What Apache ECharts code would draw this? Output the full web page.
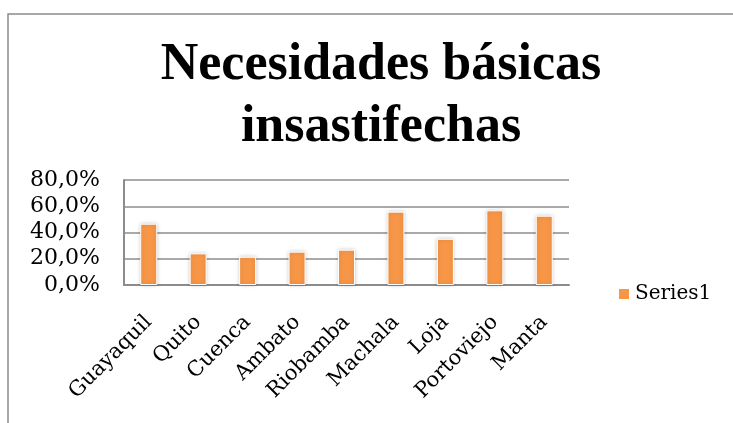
<!DOCTYPE html>
<html>
<head>
<meta charset="utf-8">
<script src="https://cdn.jsdelivr.net/npm/echarts@6/dist/echarts.min.js"></script>
<style>
  html, body { margin: 0; padding: 0; background: #fff; }
  #chart { width: 733px; height: 423px; }
</style>
</head>
<body>
<div id="chart"></div>
<script>
// datos
var cities = ["Guayaquil", "Quito", "Cuenca", "Ambato", "Riobamba", "Machala", "Loja", "Portoviejo", "Manta"];
var nbiValues = [46.7, 24.1, 21.5, 25.4, 26.9, 55.9, 35.2, 56.9, 52.8];
var seriesName = "Series1";
var titleLines = ["Necesidades básicas", "insastifechas"];

var serif = "'Liberation Serif', serif";
var wideSerif = "'DejaVu Serif', serif";
var myChart = echarts.init(document.getElementById("chart"));

myChart.setOption({
  animation: false,
  title: {
    text: titleLines.join("\n"),
    left: 376,
    textAlign: "center",
    top: 30,
    textStyle: {
      fontFamily: serif,
      fontWeight: "bold",
      fontSize: 52,
      lineHeight: 62,
      color: "#000"
    }
  },
  graphic: [
    {
      type: "rect",
      shape: { x: 8, y: 14, width: 800, height: 500 },
      style: { fill: "none", stroke: "#8c8c8c", lineWidth: 1.5 },
      silent: true
    }
  ],
  legend: {
    data: [seriesName],
    left: 612,
    top: 279,
    icon: "rect",
    itemWidth: 12,
    itemHeight: 12,
    itemGap: 8,
    textStyle: { fontFamily: wideSerif, fontSize: 20, color: "#000" }
  },
  grid: {
    left: 124,
    right: 164,
    top: 180,
    bottom: 138
  },
  xAxis: {
    type: "category",
    data: cities,
    axisLine: { lineStyle: { color: "#8c8c8c", width: 2 } },
    axisTick: { show: false },
    axisLabel: {
      rotate: 45,
      interval: 0,
      margin: 34,
      fontFamily: wideSerif,
      fontSize: 21,
      color: "#000"
    }
  },
  yAxis: {
    type: "value",
    min: 0,
    max: 80,
    interval: 20,
    axisLine: { show: true, lineStyle: { color: "#8c8c8c", width: 2 } },
    axisTick: { show: false },
    splitLine: { lineStyle: { color: "#8c8c8c", width: 1.5 } },
    axisLabel: {
      margin: 24,
      fontFamily: wideSerif,
      fontSize: 22,
      color: "#000",
      formatter: function (v) {
        return v.toFixed(1).replace(".", ",") + "%";
      }
    }
  },
  series: [
    {
      name: seriesName,
      type: "bar",
      data: nbiValues,
      barWidth: 17,
      itemStyle: {
        color: "#f79646",
        borderColor: "#fff",
        borderWidth: 1,
        shadowColor: "rgba(0,0,0,0.2)",
        shadowBlur: 4
      }
    }
  ]
});
</script>
</body>
</html>
